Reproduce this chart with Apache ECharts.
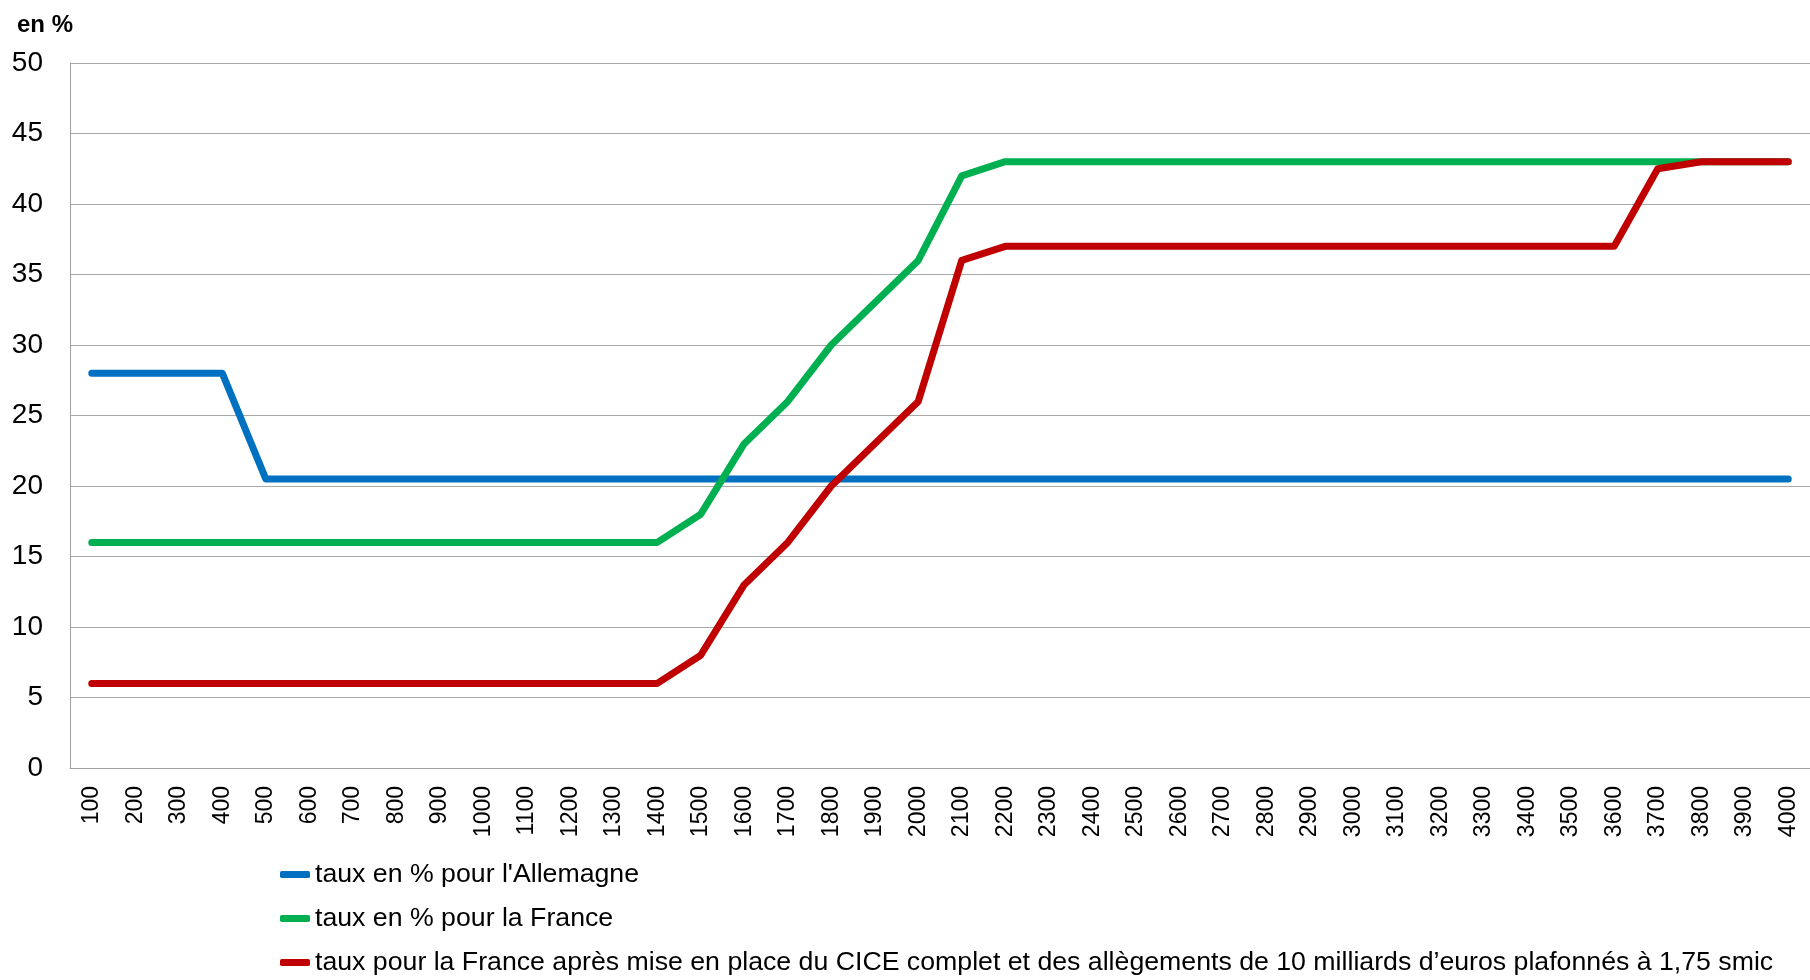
<!DOCTYPE html>
<html>
<head>
<meta charset="utf-8">
<script src="https://cdn.jsdelivr.net/npm/echarts@6/dist/echarts.min.js"></script>
<style>
html,body{margin:0;padding:0;background:#fff;}
#chart{width:1810px;height:980px;}
</style>
</head>
<body>
<div id="chart"></div>
<script>
var categories = ['100','200','300','400','500','600','700','800','900','1000','1100','1200','1300','1400','1500','1600','1700','1800','1900','2000','2100','2200','2300','2400','2500','2600','2700','2800','2900','3000','3100','3200','3300','3400','3500','3600','3700','3800','3900','4000'];
var allemagne = [28,28,28,28,20.5,20.5,20.5,20.5,20.5,20.5,20.5,20.5,20.5,20.5,20.5,20.5,20.5,20.5,20.5,20.5,20.5,20.5,20.5,20.5,20.5,20.5,20.5,20.5,20.5,20.5,20.5,20.5,20.5,20.5,20.5,20.5,20.5,20.5,20.5,20.5];
var france = [16,16,16,16,16,16,16,16,16,16,16,16,16,16,18,23,26,30,33,36,42,43,43,43,43,43,43,43,43,43,43,43,43,43,43,43,43,43,43,43];
var franceCice = [6,6,6,6,6,6,6,6,6,6,6,6,6,6,8,13,16,20,23,26,36,37,37,37,37,37,37,37,37,37,37,37,37,37,37,37,42.5,43,43,43];
var yTicks = {min: 0, max: 50, interval: 5};
var names = ["taux en % pour l'Allemagne", "taux en % pour la France", "taux pour la France après mise en place du CICE complet et des allègements de 10 milliards d’euros plafonnés à 1,75 smic"];
var colors = ['#0070C0', '#00B050', '#C00000'];

var font = "'Liberation Sans', Arial, sans-serif";
var chart = echarts.init(document.getElementById('chart'));
function mk(i, data) {
  return {
    name: names[i], type: 'line', data: data, showSymbol: false, symbol: 'none',
    lineStyle: {color: colors[i], width: 7, cap: 'round', join: 'round'},
    itemStyle: {color: colors[i]}, animation: false
  };
}
chart.setOption({
  backgroundColor: '#fff',
  animation: false,
  title: {text: 'en %', left: 12, top: 8, textStyle: {fontFamily: font, fontSize: 24, fontWeight: 'bold', color: '#000'}},
  grid: {left: 70, right: 0, top: 63, bottom: 212, containLabel: false},
  legend: {
    orient: 'vertical', left: 280, top: 861, padding: 0, itemGap: 17, itemWidth: 30, itemHeight: 7,
    height: 119,
    icon: 'roundRect',
    textStyle: {fontFamily: font, fontSize: 26.7, color: '#000'},
    data: names
  },
  xAxis: {
    type: 'category', data: categories, boundaryGap: true,
    axisLine: {lineStyle: {color: '#a0a0a0', width: 1}},
    axisTick: {show: false},
    axisLabel: {rotate: 90, interval: 0, margin: 18, fontFamily: font, fontSize: 23, color: '#000'}
  },
  yAxis: {
    type: 'value', min: yTicks.min, max: yTicks.max, interval: yTicks.interval,
    axisLine: {show: true, lineStyle: {color: '#a0a0a0', width: 1}},
    axisTick: {show: false},
    splitLine: {lineStyle: {color: '#a8a8a8', width: 1}},
    axisLabel: {margin: 27, fontFamily: font, fontSize: 28, color: '#000'}
  },
  series: [mk(0, allemagne), mk(1, france), mk(2, franceCice)]
});
</script>
</body>
</html>
